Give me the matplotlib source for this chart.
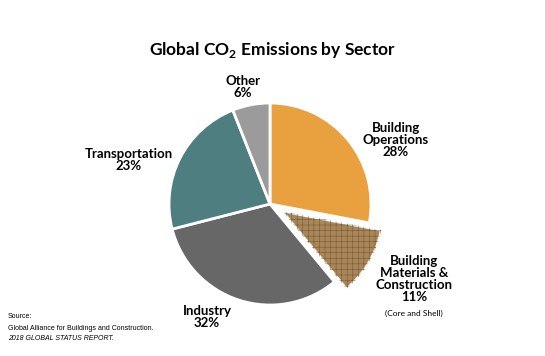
import matplotlib.pyplot as plt
from matplotlib.patches import Wedge

plt.rcParams['font.family'] = ['Lato', 'DejaVu Sans']
plt.rcParams['mathtext.fontset'] = 'custom'
plt.rcParams['mathtext.bf'] = 'Lato:bold'
plt.rcParams['hatch.linewidth'] = 0.35

sectors = ['Building Operations', 'Building Materials & Construction', 'Industry',
           'Transportation', 'Other']
shares = [28, 11, 32, 23, 6]
colors = ['#E8A13E', '#A98659', '#676767', '#4E7E80', '#9B9B9B']
explode = [0, 0.14, 0, 0, 0]

label_text = ['Building\nOperations\n28%', 'Building\nMaterials &\nConstruction\n11%',
              'Industry\n32%', 'Transportation\n23%', 'Other\n6%']
label_pos = [(396, 140), (414, 279), (207, 317), (129, 160), (243, 87)]

W, H = 545, 356
fig = plt.figure(figsize=(W / 100, H / 100), dpi=100)
cx, cy, half = 270, 204, 130
ax = fig.add_axes([(cx - half) / W, (H - cy - half) / H, 2 * half / W, 2 * half / H])

wedges, _ = ax.pie(shares, colors=colors, explode=explode, startangle=90,
                   counterclock=False, radius=1.01,
                   wedgeprops=dict(edgecolor='white', linewidth=2))
# brick-like texture on the materials slice
w = wedges[1]
overlay = Wedge(w.center, w.r, w.theta1, w.theta2, facecolor='none',
                edgecolor='#73552F', linewidth=0, hatch='+++')
ax.add_patch(overlay)
ax.set_xlim(-1.3, 1.3)
ax.set_ylim(-1.3, 1.3)
ax.set_aspect('equal')
ax.axis('off')

fig.text(0.5, 1 - 50 / H, r'Global CO$_\mathbf{2}$ Emissions by Sector', ha='center', va='center',
         fontsize=12.5, fontweight='bold')

for txt, (x, y) in zip(label_text, label_pos):
    fig.text(x / W, 1 - y / H, txt, ha='center', va='center', fontsize=9.5,
             fontweight='bold', linespacing=1.0)
fig.text(414 / W, 1 - 313 / H, '(Core and Shell)', ha='center', va='center', fontsize=6)

fig.text(8 / W, 1 - 317 / H, 'Source:', fontsize=5, family='Liberation Sans', va='center')
fig.text(8 / W, 1 - 328 / H, 'Global Alliance for Buildings and Construction.', fontsize=5,
         family='Liberation Sans', va='center')
fig.text(8 / W, 1 - 338 / H, '2018 GLOBAL STATUS REPORT.', fontsize=5, style='italic',
         family='Liberation Sans', va='center')

fig.savefig('out.png', dpi=100)
